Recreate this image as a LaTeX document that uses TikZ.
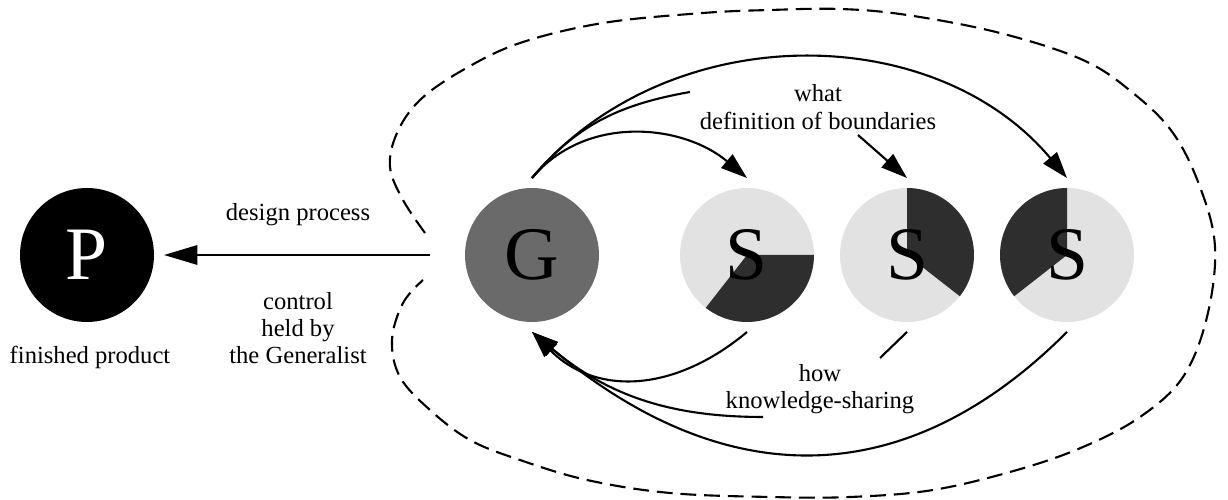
\documentclass[tikz,border=0pt]{standalone}
\usepackage{fontspec}
\setmainfont{Liberation Serif}
\usetikzlibrary{arrows.meta}
\definecolor{gengray}{HTML}{6A6A6A}
\definecolor{speclight}{HTML}{E2E2E2}
\definecolor{specdark}{HTML}{2E2E2E}
\begin{document}
\begin{tikzpicture}[x=0.02cm, y=0.02cm,
	  disc/.style={circle, minimum size=2.68cm, inner sep=0pt, outer sep=0.2cm, font=\fontsize{43}{43}\selectfont},
	  spec/.style 2 args={disc, fill=speclight, path picture={\fill[specdark] (path picture bounding box.center) -- ++(#1:1.4cm) arc[start angle=#1, end angle=#2, radius=1.4cm] -- cycle;}},
	  lbl/.style={align=center, font=\fontsize{14}{15.5}\selectfont},
	  conn/.style={line width=1.2pt},
	  arr/.style={conn, -{Triangle[length=15pt, width=10pt]}},
	  bigarr/.style={conn, -{Triangle[length=19pt, width=11pt]}}]
	  \useasboundingbox (0,0) rectangle (1228,500);

	  \node [ disc, fill=black, text=white ] (p) at (87,245) {P};
	  \node [ disc, fill=gengray ] (g) at (532,245) {G};
	  \node [ spec={-128}{0} ] (s1) at (747,245) {S};
	  \node [ spec={-38}{90} ] (s2) at (907,245) {S};
	  \node [ spec={90}{218} ] (s3) at (1067,245) {S};

	  \node [ lbl ] (fin) at (90,143) {finished product};
	  \node [ lbl ] (proc) at (298,285) {design process};
	  \node [ lbl ] (ctrl) at (298,172) {control\\held by\\the Generalist};
	  \node [ lbl ] (bnd) at (818,393) {what\\definition of boundaries};
	  \node [ lbl ] (know) at (820,111) {how\\knowledge-sharing};

	  \coordinate (out) at (430,245);
	  \coordinate (bndin) at (690,408);
	  \coordinate (bndout) at (858,365);
	  \coordinate (knowin) at (880,142);
	  \coordinate (knowout) at (763,83);

	  \draw [ bigarr ] (out) -- (p);

	  \draw [ arr ] (g.north) to [ out=50, in=130 ] (s3.north);
	  \draw [ conn ] (g.north) to [ out=50, in=190 ] (bndin);
	  \draw [ arr ] (g.north) to [ out=50, in=140 ] (s1.north);
	  \draw [ arr ] (bndout) -- (s2.north);

	  \draw [ arr ] (s1.south) to [ out=-140, in=-45, looseness=1.1 ] (g.south);
	  \draw [ conn ] (s2.south) -- (knowin);
	  \draw [ arr ] (knowout) to [ out=180, in=-40 ] (g.south);
	  \draw [ arr ] (s3.south) to [ out=-135, in=-40, looseness=1.15 ] (g.south);

	  \draw [ conn, dash pattern=on 9pt off 4.5pt ] plot [ smooth, tension=0.6 ] coordinates {
	    (425,267) (403,300) (390,333) (397,367) (420,400) (463,430) (520,457) (603,477) (703,487) (770,490) (840,491)
	    (907,485) (1000,467) (1083,440) (1133,407) (1173,367) (1200,313) (1215,253) (1207,183) (1183,123) (1140,83)
	    (1083,53) (1017,30) (933,10) (850,3) (770,3) (670,7) (587,20) (520,40) (470,60) (430,90) (400,123) (392,160)
	    (403,197) (423,220) };
	\end{tikzpicture}
\end{document}
